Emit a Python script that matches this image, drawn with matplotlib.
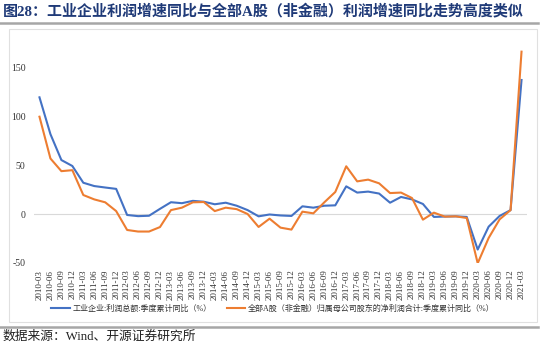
import matplotlib
matplotlib.use("Agg")
import matplotlib.pyplot as plt
from matplotlib.patches import Rectangle
from matplotlib.lines import Line2D

plt.rcParams['font.family'] = ['Liberation Serif', 'Noto Sans CJK SC', 'DejaVu Sans']

quarters = []
for y in range(2010, 2021):
    for m in ["03", "06", "09", "12"]:
        quarters.append(f"{y}-{m}")
quarters.append("2021-03")

industrial = [119.8, 82.0, 55.4, 49.3, 32.1, 28.7, 27.2, 25.8,
              -1.0, -2.2, -1.8, 5.3, 12.1, 11.1, 13.5, 12.6,
              10.0, 11.6, 8.5, 4.0, -2.4, -0.5, -1.5, -2.0,
              7.9, 6.5, 8.5, 8.9, 28.4, 22.0, 23.0, 21.0,
              11.6, 17.5, 15.0, 10.3, -3.0, -2.6, -2.4, -3.0,
              -36.5, -13.0, -2.0, 4.0, 137.6]
ashare = [99.9, 57.0, 44.0, 45.0, 19.5, 15.0, 12.0, 3.0,
          -16.4, -18.0, -18.0, -13.4, 4.0, 6.5, 12.0, 12.3,
          3.0, 6.5, 5.0, 0.0, -13.3, -4.8, -14.0, -16.0,
          2.4, 0.7, 12.0, 22.6, 49.0, 33.5, 35.3, 31.5,
          21.5, 22.0, 16.4, -5.8, 1.4, -2.7, -2.4, -4.1,
          -50.6, -24.6, -5.5, 4.0, 166.7]

label_ind = "工业企业:利润总额:季度累计同比（%）"
label_ash = "全部A股（非金融）归属母公司股东的净利润合计:季度累计同比（%）"
title = "图28：工业企业利润增速同比与全部A股（非金融）利润增速同比走势高度类似"
source = "数据来源：Wind、开源证券研究所"

W, H = 550, 346
fig = plt.figure(figsize=(5.5, 3.46), dpi=100)

# Title and decorations
fig.text(3 / W, 1 - 11 / H, title, fontsize=10.8, fontweight='bold', color='#1f3a78',
         ha='left', va='center')
fig.add_artist(Line2D([0, 538 / W], [1 - 22.5 / H, 1 - 22.5 / H], color='#a6a6a6', lw=1.8,
                      transform=fig.transFigure))
fig.add_artist(Rectangle((9 / W, 1 - 322 / H), (537 - 9) / W, (322 - 29) / H,
                         transform=fig.transFigure, fill=False, edgecolor='#e0e0e0', lw=0.8))
fig.add_artist(Line2D([0, 538 / W], [1 - 326.5 / H, 1 - 326.5 / H], color='#a6a6a6', lw=1.8,
                      transform=fig.transFigure))
fig.text(3 / W, 1 - 337 / H, source, fontsize=9.2, color='#222222', ha='left', va='center')

# Axes
left, right = 34 / W, 527 / W
bottom = 1 - 262.7 / H
top = 1 - 38.7 / H
ax = fig.add_axes([left, bottom, right - left, top - bottom])
x = list(range(len(quarters)))
l1, = ax.plot(x, industrial, color='#4472C4', lw=1.5, label=label_ind)
l2, = ax.plot(x, ashare, color='#ED7D31', lw=1.5, label=label_ash)
ax.axhline(0, color='#d9d9d9', lw=0.8, zorder=0)
ax.set_xlim(-0.5, len(quarters) - 0.5)
ax.set_ylim(-50, 180)
ax.set_yticks([-50, 0, 50, 100, 150])
ax.set_yticklabels(['-50', '0', '50', '100', '150'])
ax.set_xticks(x)
ax.set_xticklabels(quarters, rotation=90, fontsize=6.5, color='#333333')
ax.tick_params(axis='y', labelsize=7, colors='#333333', length=0, pad=6)
ax.tick_params(axis='x', length=0, pad=5)
for s in ax.spines.values():
    s.set_visible(False)

fig.legend(handles=[l1, l2], loc='center', bbox_to_anchor=(273 / W, 1 - 308.5 / H),
           ncol=2, frameon=False, fontsize=5.8, handlelength=2.3, columnspacing=1.8,
           handletextpad=0.4, labelcolor='#333333')

fig.savefig("out.png", dpi=100)
